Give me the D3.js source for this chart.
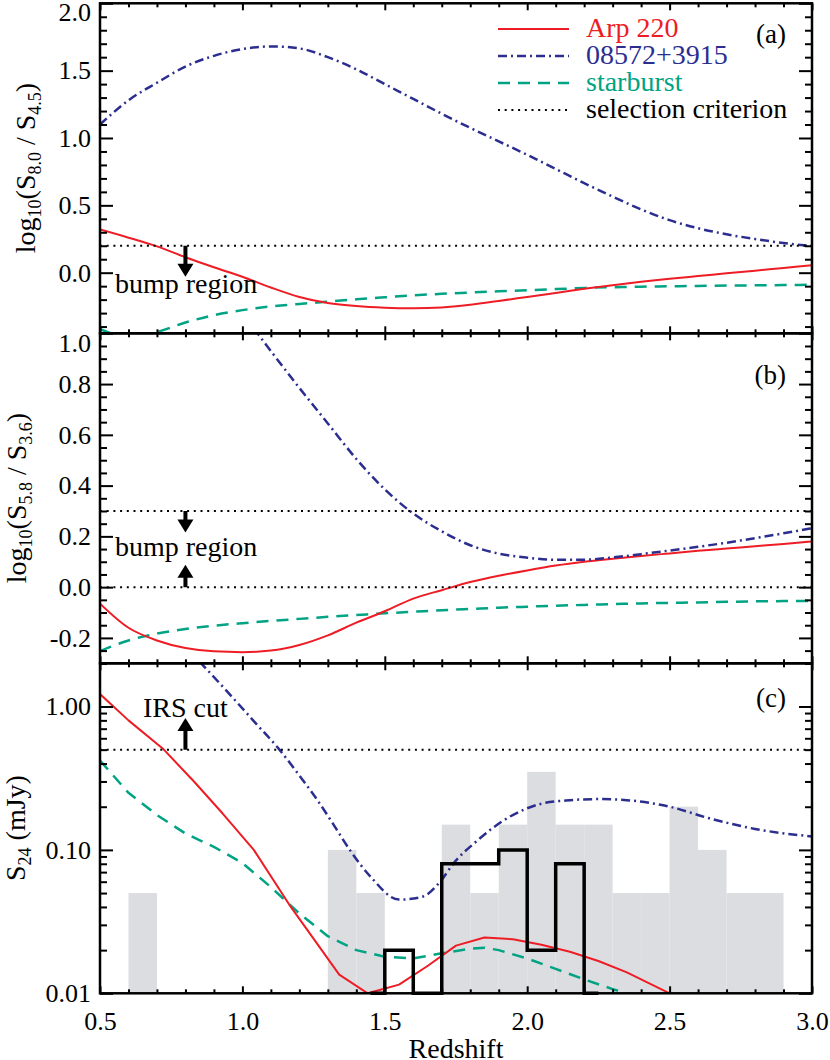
<!DOCTYPE html>
<html>
<head>
<meta charset="utf-8">
<script src="https://cdn.jsdelivr.net/npm/d3@7"></script>
<style>
  body { margin: 0; background: #fff; }
  svg text { font-family: "Liberation Serif", "Times New Roman", serif !important; }
</style>
</head>
<body>
<svg id="chart" width="830" height="1060"></svg>
<script>
// ---------------- DATA ----------------
const redshiftGrid = [0.5,0.6,0.7,0.8,0.9,1.0,1.1,1.2,1.3,1.4,1.5,1.6,1.7,1.8,1.9,2.0,2.1,2.2,2.3,2.4,2.5,2.6,2.7,2.8,2.9,3.0];

// Panel (a): log10(S8.0/S4.5)
const arpA   = [0.32,0.26,0.195,0.115,0.04,-0.03,-0.11,-0.18,-0.225,-0.248,-0.26,-0.264,-0.258,-0.238,-0.21,-0.18,-0.15,-0.12,-0.093,-0.068,-0.045,-0.025,-0.005,0.015,0.035,0.055];
const iras08572A = [1.10,1.28,1.41,1.53,1.61,1.66,1.68,1.665,1.60,1.51,1.40,1.29,1.18,1.075,0.975,0.875,0.77,0.665,0.565,0.47,0.39,0.33,0.285,0.25,0.22,0.198];
const starburstA = [-0.42,-0.475,-0.44,-0.37,-0.315,-0.278,-0.25,-0.232,-0.215,-0.198,-0.183,-0.168,-0.157,-0.147,-0.138,-0.13,-0.122,-0.113,-0.108,-0.104,-0.101,-0.098,-0.096,-0.094,-0.092,-0.09];
const criterionA = [0.2];

// Panel (b): log10(S5.8/S3.6)
const arpB   = [-0.065,-0.16,-0.21,-0.24,-0.253,-0.256,-0.25,-0.228,-0.19,-0.14,-0.095,-0.045,-0.012,0.02,0.045,0.066,0.085,0.10,0.112,0.123,0.133,0.143,0.152,0.161,0.17,0.18];
const iras08572Bz = [1.0,1.1,1.2,1.3,1.4,1.5,1.6,1.7,1.8,1.9,2.0,2.1,2.2,2.3,2.4,2.5,2.6,2.7,2.8,2.9,3.0];
const iras08572B  = [1.08,0.93,0.785,0.645,0.505,0.385,0.29,0.22,0.165,0.132,0.116,0.108,0.108,0.117,0.13,0.144,0.159,0.175,0.193,0.212,0.232];
const starburstB = [-0.252,-0.21,-0.183,-0.165,-0.152,-0.142,-0.133,-0.125,-0.117,-0.11,-0.103,-0.097,-0.091,-0.086,-0.081,-0.077,-0.073,-0.07,-0.067,-0.064,-0.062,-0.06,-0.058,-0.056,-0.055,-0.054];
const criterionB = [0.3, 0.0];

// Panel (c): S24 (mJy)
const arpCz = [0.5,0.6,0.72,0.83,0.93,1.04,1.17,1.34,1.44,1.55,1.65,1.75,1.85,1.95,2.05,2.15,2.25,2.35,2.5];
const arpC  = [1.22,0.80,0.51,0.30,0.18,0.10,0.040,0.0135,0.0100,0.0115,0.0155,0.0215,0.0245,0.0238,0.0218,0.0195,0.0168,0.0140,0.0100];
const iras08572Cz = [0.85,0.95,1.04,1.13,1.2,1.265,1.32,1.377,1.45,1.55,1.63,1.7,1.74,1.82,1.94,2.05,2.15,2.25,2.35,2.5,2.64,2.8,3.0];
const iras08572C  = [2.05,1.25,0.79,0.50,0.33,0.22,0.15,0.10,0.065,0.045,0.047,0.062,0.08,0.114,0.171,0.21,0.222,0.226,0.222,0.20,0.166,0.14,0.124];
const starburstCz = [0.5,0.6,0.7,0.8,0.9,1.0,1.1,1.2,1.3,1.4,1.5,1.6,1.7,1.8,1.85,1.9,2.0,2.1,2.2,2.3,2.36];
const starburstC  = [0.42,0.25,0.175,0.13,0.105,0.081,0.055,0.036,0.025,0.020,0.018,0.0175,0.019,0.0205,0.0208,0.020,0.0175,0.0148,0.0125,0.0107,0.0098];
const irsCut = [0.5];

// Histograms (panel c)
const grayBinLeft = [0.6,1.3,1.4,1.7,1.8,1.9,2.0,2.1,2.2,2.3,2.4,2.5,2.6,2.7,2.8];
const grayValues  = [0.05,0.10,0.05,0.15,0.05,0.15,0.35,0.15,0.15,0.05,0.05,0.20,0.10,0.05,0.05];
const blackBinCenter = [1.45,1.55,1.65,1.75,1.85,1.95,2.05,2.15,2.25];
const blackValues    = [0,0.02,0,0.08,0.08,0.10,0.02,0.08,0];

// Axis ticks / labels
const xTicks = [0.5,1.0,1.5,2.0,2.5,3.0];
const xTickLabels = ["0.5","1.0","1.5","2.0","2.5","3.0"];
const yTicksA = [0.0,0.5,1.0,1.5,2.0];
const yTickLabelsA = ["0.0","0.5","1.0","1.5","2.0"];
const yTicksB = [-0.2,0.0,0.2,0.4,0.6,0.8,1.0];
const yTickLabelsB = ["-0.2","0.0","0.2","0.4","0.6","0.8","1.0"];
const yTicksC = [0.01,0.1,1.0];
const yTickLabelsC = ["0.01","0.10","1.00"];

const legendNames = ["Arp 220","08572+3915","starburst","selection criterion"];

// ---------------- STYLE ----------------
const RED = "#ee1d25", BLUE = "#2b2e8f", GREEN = "#00a383", GRAY = "#dcdde0";
const styles = {
  arp:   {stroke: RED,   width: 2,   dash: null},
  iras:  {stroke: BLUE,  width: 2.5, dash: "9,4,2,4"},
  sb:    {stroke: GREEN, width: 2.5, dash: "12,8"},
  sel:   {stroke: "#000",width: 2,   dash: "2,4.7"}
};

// ---------------- LAYOUT ----------------
const svg = d3.select("#chart");
const L = 100, R = 812;
const panels = [
  {top: 3.3,   bottom: 333.3},
  {top: 333.3, bottom: 663.3},
  {top: 663.3, bottom: 993.3}
];
const x = d3.scaleLinear().domain([0.5, 3.0]).range([L, R]);
const yA = d3.scaleLinear().domain([-0.45, 2.0]).range([panels[0].bottom, panels[0].top]);
const yB = d3.scaleLinear().domain([-0.3, 1.0]).range([panels[1].bottom, panels[1].top]);
const yC = d3.scaleLog().domain([0.01, 2.0]).range([panels[2].bottom, panels[2].top]);

const defs = svg.append("defs");
panels.forEach((p, i) => {
  defs.append("clipPath").attr("id", "clip" + i)
    .append("rect").attr("x", L).attr("y", p.top).attr("width", R - L).attr("height", p.bottom - p.top);
});

function drawSeries(g, xs, ys, yScale, st, curve) {
  const pts = xs.map((z, i) => [z, ys[i]]);
  g.append("path").datum(pts)
    .attr("fill", "none")
    .attr("stroke", st.stroke)
    .attr("stroke-width", st.width)
    .attr("stroke-dasharray", st.dash)
    .attr("stroke-linejoin", "round")
    .attr("d", d3.line().x(d => x(d[0])).y(d => yScale(d[1])).curve(curve));
}
function hline(g, v, yScale) {
  g.append("line").attr("x1", L).attr("x2", R)
    .attr("y1", yScale(v)).attr("y2", yScale(v))
    .attr("stroke", "#000").attr("stroke-width", styles.sel.width)
    .attr("stroke-dasharray", styles.sel.dash);
}
function arrow(g, zx, yFromPx, yToPx) {
  const cx = x(zx);
  const dir = Math.sign(yToPx - yFromPx);
  const headLen = 13, headW = 8, shaft = 2;
  const yBase = yToPx - dir * headLen;
  const path = d3.path();
  path.moveTo(cx - shaft, yFromPx);
  path.lineTo(cx + shaft, yFromPx);
  path.lineTo(cx + shaft, yBase);
  path.lineTo(cx + headW, yBase);
  path.lineTo(cx, yToPx);
  path.lineTo(cx - headW, yBase);
  path.lineTo(cx - shaft, yBase);
  path.closePath();
  g.append("path").attr("d", path.toString()).attr("fill", "#000");
}

// ---------------- PANEL (c) histograms ----------------
const gC = svg.append("g").attr("clip-path", "url(#clip2)");
gC.selectAll("rect.gray").data(grayBinLeft.map((b, i) => ({b, v: grayValues[i]})))
  .join("rect").attr("class", "gray")
  .attr("x", d => x(d.b)).attr("width", d => x(d.b + 0.1) - x(d.b))
  .attr("y", d => yC(d.v)).attr("height", d => yC(0.01) - yC(d.v))
  .attr("fill", GRAY);

// ---------------- PANEL (a) ----------------
const gA = svg.append("g").attr("clip-path", "url(#clip0)");
drawSeries(gA, redshiftGrid, starburstA, yA, styles.sb, d3.curveMonotoneX);
drawSeries(gA, redshiftGrid, arpA, yA, styles.arp, d3.curveMonotoneX);
drawSeries(gA, redshiftGrid, iras08572A, yA, styles.iras, d3.curveMonotoneX);
criterionA.forEach(v => hline(gA, v, yA));
arrow(svg, 0.8, yA(criterionA[0]), yA(-0.03));
svg.append("text").attr("x", L + 15).attr("y", 292.5).attr("font-size", 28).text("bump region");

// ---------------- PANEL (b) ----------------
const gB = svg.append("g").attr("clip-path", "url(#clip1)");
drawSeries(gB, redshiftGrid, starburstB, yB, styles.sb, d3.curveMonotoneX);
drawSeries(gB, redshiftGrid, arpB, yB, styles.arp, d3.curveMonotoneX);
drawSeries(gB, iras08572Bz, iras08572B, yB, styles.iras, d3.curveMonotoneX);
criterionB.forEach(v => hline(gB, v, yB));
arrow(svg, 0.8, yB(criterionB[0]), yB(0.215));
arrow(svg, 0.8, yB(criterionB[1]), yB(0.088));
svg.append("text").attr("x", L + 15).attr("y", 556).attr("font-size", 28).text("bump region");

// ---------------- PANEL (c) curves ----------------
drawSeries(gC, starburstCz, starburstC, yC, styles.sb, d3.curveLinear);
drawSeries(gC, arpCz, arpC, yC, styles.arp, d3.curveLinear);
drawSeries(gC, iras08572Cz, iras08572C, yC, styles.iras, d3.curveMonotoneX);
irsCut.forEach(v => hline(gC, v, yC));
arrow(svg, 0.8, yC(irsCut[0]), yC(0.83));
svg.append("text").attr("x", L + 43).attr("y", 716.5).attr("font-size", 28).text("IRS cut");

// black step histogram (psym=10 style)
svg.append("path")
  .datum(blackBinCenter.map((c, i) => [c, Math.max(blackValues[i], yC.domain()[0])]))
  .attr("fill", "none").attr("stroke", "#000").attr("stroke-width", 3.5)
  .attr("stroke-linejoin", "miter")
  .attr("d", d3.line().x(d => x(d[0])).y(d => yC(d[1])).curve(d3.curveStep));

// ---------------- AXES ----------------
function styleAxis(g) {
  g.attr("font-family", null);
  g.select(".domain").remove();
  g.selectAll(".tick line").attr("stroke", "#000").attr("stroke-width", 2);
  g.selectAll(".tick text").attr("font-size", 26).attr("fill", "#000");
}
function yAxes(scale, majors, labels, minors, topShift) {
  const gl = svg.append("g").attr("transform", `translate(${L},0)`)
    .call(d3.axisLeft(scale).tickValues(majors).tickSize(-13).tickPadding(9)
      .tickFormat((d, i) => labels[i]));
  styleAxis(gl);
  if (topShift) {
    gl.selectAll(".tick text").filter(d => d === majors[majors.length - 1]).attr("dy", (0.32 + topShift / 26) + "em");
  }
  svg.append("g").attr("transform", `translate(${L},0)`)
    .call(d3.axisLeft(scale).tickValues(minors).tickSize(-7).tickFormat(""))
    .call(styleAxis);
  svg.append("g").attr("transform", `translate(${R},0)`)
    .call(d3.axisRight(scale).tickValues(majors).tickSize(-13).tickFormat(""))
    .call(styleAxis);
  svg.append("g").attr("transform", `translate(${R},0)`)
    .call(d3.axisRight(scale).tickValues(minors).tickSize(-7).tickFormat(""))
    .call(styleAxis);
}
const minorA = d3.range(-4, 21).map(k => k / 10).filter(v => !yTicksA.includes(v));
const minorB = d3.range(-6, 21).map(k => k / 20).filter(v => !yTicksB.some(t => Math.abs(t - v) < 1e-9));
const minorC = [0.02,0.03,0.04,0.05,0.06,0.07,0.08,0.09,0.2,0.3,0.4,0.5,0.6,0.7,0.8,0.9,2.0];
yAxes(yA, yTicksA, yTickLabelsA, minorA, 9);
yAxes(yB, yTicksB, yTickLabelsB, minorB, 10);
yAxes(yC, yTicksC, yTickLabelsC, minorC, 0);

const minorX = d3.range(5, 31).map(k => k / 10).filter(v => !xTicks.some(t => Math.abs(t - v) < 1e-9));
panels.forEach((p, i) => {
  [[p.bottom, d3.axisBottom], [p.top, d3.axisTop]].forEach(([yy, ax]) => {
    const isLabelled = (i === 2 && yy === p.bottom);
    const g1 = svg.append("g").attr("transform", `translate(0,${yy})`)
      .call(ax(x).tickValues(xTicks).tickSize(-7).tickPadding(18)
        .tickFormat((d, k) => isLabelled ? xTickLabels[k] : ""));
    styleAxis(g1);
    svg.append("g").attr("transform", `translate(0,${yy})`)
      .call(ax(x).tickValues(minorX).tickSize(-4).tickFormat(""))
      .call(styleAxis);
  });
  svg.append("rect").attr("x", L).attr("y", p.top).attr("width", R - L).attr("height", p.bottom - p.top)
    .attr("fill", "none").attr("stroke", "#000").attr("stroke-width", 2.5);
});

// Axis titles
svg.append("text").attr("x", (L + R) / 2).attr("y", 1058).attr("text-anchor", "middle")
  .attr("font-size", 28).text("Redshift");

function yTitle(tx, ty, parts) {
  const t = svg.append("text").attr("transform", `translate(${tx},${ty}) rotate(-90)`)
    .attr("text-anchor", "middle").attr("font-size", 28);
  let sub = false;
  parts.forEach(([s, isSub]) => {
    const dy = isSub && !sub ? 6 : (!isSub && sub ? -6 : 0);
    t.append("tspan").attr("dy", dy).attr("font-size", isSub ? 18 : 28).text(s);
    sub = isSub;
  });
}
yTitle(35, 168, [["log",0],["10",1],["(S",0],["8.0",1],[" / S",0],["4.5",1],[")",0]]);
yTitle(26, 498, [["log",0],["10",1],["(S",0],["5.8",1],[" / S",0],["3.6",1],[")",0]]);
yTitle(25, 828, [["S",0],["24",1],[" (mJy)",0]]);

// Panel tags
svg.append("text").attr("x", 786).attr("y", 43).attr("text-anchor", "end").attr("font-size", 27).text("(a)");
svg.append("text").attr("x", 786).attr("y", 384).attr("text-anchor", "end").attr("font-size", 27).text("(b)");
svg.append("text").attr("x", 786).attr("y", 707).attr("text-anchor", "end").attr("font-size", 27).text("(c)");

// Legend
const legStyles = [styles.arp, styles.iras, styles.sb, styles.sel];
const legColors = [RED, BLUE, GREEN, "#000"];
legendNames.forEach((name, i) => {
  const by = 37 + i * 27;
  const st = legStyles[i];
  svg.append("line").attr("x1", 498).attr("x2", 569).attr("y1", by - 8).attr("y2", by - 8)
    .attr("stroke", st.stroke).attr("stroke-width", st.width).attr("stroke-dasharray", st.dash);
  svg.append("text").attr("x", 586).attr("y", by).attr("font-size", 28).attr("fill", legColors[i]).text(name);
});
</script>
</body>
</html>
